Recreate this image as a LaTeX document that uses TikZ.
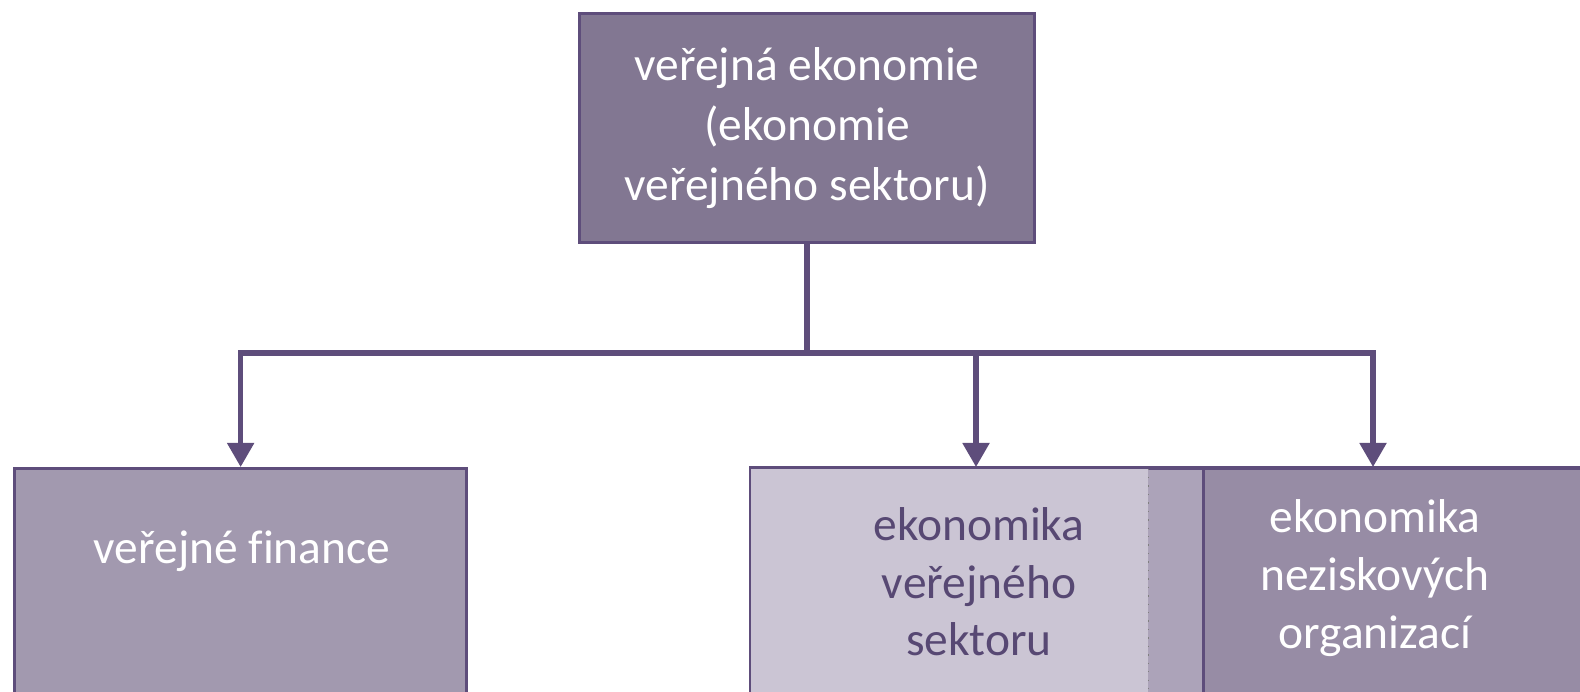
\documentclass[tikz,border=0pt]{standalone}
\usepackage{fontspec}
\setmainfont[Ligatures=NoCommon]{Carlito}
\usetikzlibrary{arrows.meta}
\definecolor{edgeclr}{HTML}{5E4D7B}
\definecolor{topfill}{HTML}{827792}
\definecolor{finfill}{HTML}{A299AF}
\definecolor{lightfill}{HTML}{CBC5D4}
\definecolor{bandfill}{HTML}{ACA3B9}
\definecolor{darkfill}{HTML}{978CA5}
\definecolor{darktext}{HTML}{574873}
\tikzset{
  box/.style={draw=edgeclr, line width=0.85pt, inner sep=0pt},
  lbl/.style={align=center, text=white, font=\fontsize{13.5}{16.4}\selectfont},
  conn/.style={draw=edgeclr, line width=1.45pt},
  arr/.style={-{Triangle[width=0.26cm, length=0.24cm]}}
}
\begin{document}
\begin{tikzpicture}[x=0.01cm, y=-0.01cm]
  \useasboundingbox (0,0) rectangle (1580,691);
  \clip (0,0) rectangle (1580,691);

  \node [box, fill=topfill, minimum width=4.54cm, minimum height=2.28cm, lbl,
    font=\fontsize{13.5}{17.1}\selectfont] (top) at (807,128)
    {veřejná ekonomie\\(ekonomie\\veřejného sektoru)};

  \node [box, fill=finfill, anchor=north west, minimum width=4.52cm, minimum height=3cm] (finance) at (13,467) {};
  \node [lbl] (financelbl) at (242,551) {veřejné finance};

  \node [box, fill=bandfill, anchor=north west, minimum width=9cm, minimum height=3cm] (sector) at (749,467) {};
  \node [fill=lightfill, anchor=north west, minimum width=3.965cm, minimum height=2.9cm, inner sep=0pt] (verejny) at (750.5,468.5) {};
  \draw [dotted, gray] (verejny.north east) -- (verejny.south east);
  \node [box, fill=darkfill, anchor=north west, minimum width=4.2cm, minimum height=3cm] (nezisk) at (1202,467) {};
  \draw [edgeclr, line width=0.85pt] (sector.north west) -- (sector.north east);

  \node [lbl, text=darktext] (verejnylbl) at (979,582) {ekonomika\\veřejného\\sektoru};
  \node [lbl] (neziskl) at (1375,578) {ekonomika\\neziskových\\organizací};

  \coordinate (bus) at (0,353);
  \coordinate (vein) at (976,467);
  \coordinate (nzin) at (1373,467);
  \draw [conn] (top.south) -- (top.south |- bus);
  \draw [conn, arr] (top.south |- bus) -| (finance.north);
  \draw [conn, arr] (top.south |- bus) -| (vein);
  \draw [conn, arr] (top.south |- bus) -| (nzin);
\end{tikzpicture}
\end{document}
